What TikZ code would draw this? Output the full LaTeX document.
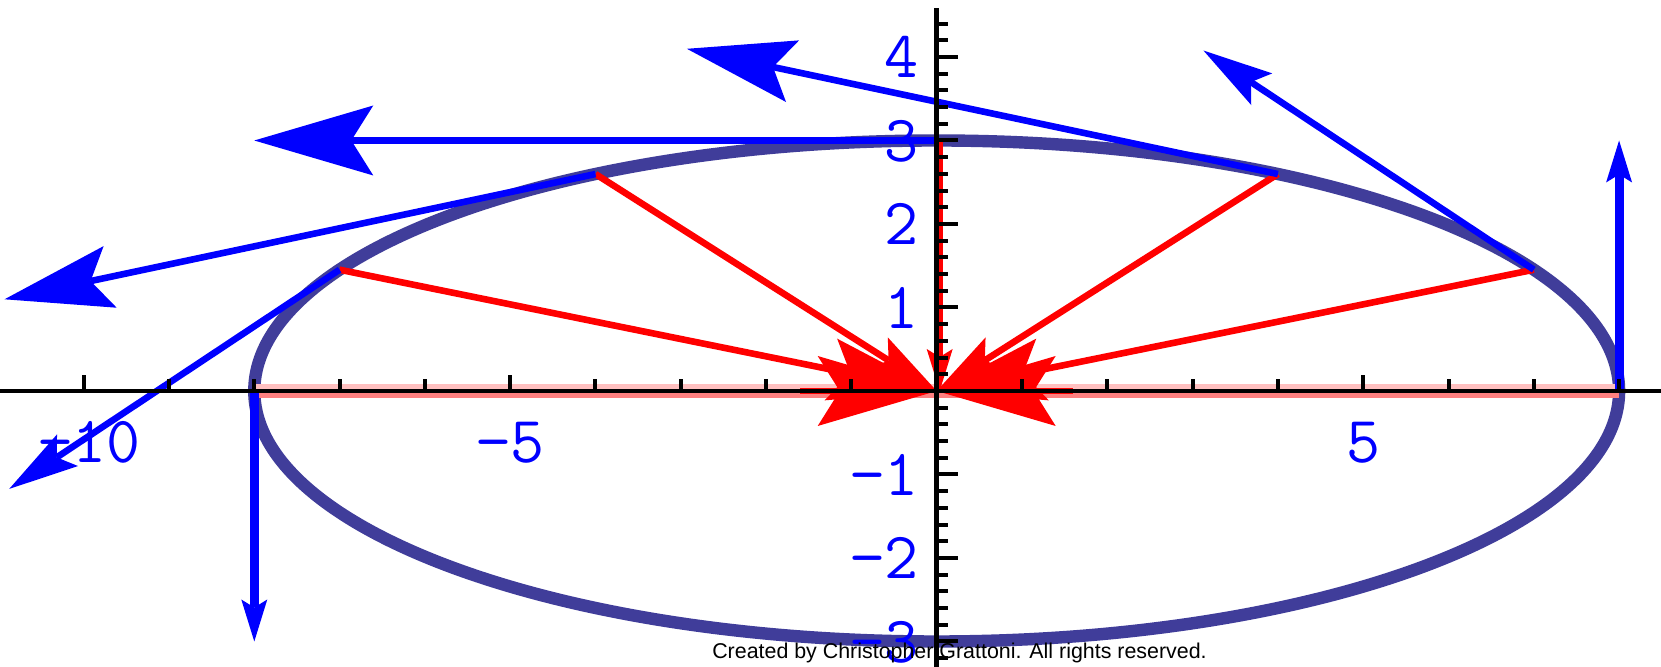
\documentclass[tikz,border=0pt]{standalone}
\usepackage{fontspec}
\setmainfont{Liberation Sans}
\usetikzlibrary{arrows.meta,calc}
\definecolor{ellc}{RGB}{64,61,154}
\definecolor{pinkup}{RGB}{255,192,192}
\definecolor{pinklo}{RGB}{255,128,128}
\begin{document}
\begin{tikzpicture}[x=42.65pt,y=41.75pt,
  ellline/.style={draw=ellc,line width=6.2pt},
  bluevec/.style={draw=blue,fill=blue,line width=3.3pt},
  bluevert/.style={draw=blue,fill=blue,line width=4.5pt},
  redvec/.style={draw=red,fill=red,line width=3.3pt},
  axisline/.style={draw=black,line width=2.25pt},
  tickline/.style={draw=black,line width=2pt},
  lbl/.style={text=blue,inner sep=0pt,font=\ttfamily\fontsize{33pt}{33pt}\selectfont},
  tipS/.style={-{Stealth[length=21pt,width=13pt,inset=4pt,line width=0pt]}},
  tipM/.style={-{Stealth[length=35pt,width=19pt,inset=6.5pt,line width=0pt]}},
  tipL/.style={-{Stealth[length=54pt,width=31.5pt,inset=10pt,line width=0pt]}},
  tipX/.style={-{Stealth[length=59.5pt,width=35pt,inset=11pt,line width=0pt]}}]
\useasboundingbox (-468.35pt,-138pt) rectangle (362.15pt,195.5pt);
\fill[white] (-468.35pt,-138pt) rectangle (362.15pt,195.5pt);
% points
\coordinate (O) at (0,0);
\coordinate (P1) at (8,0);        \coordinate (V1) at (8,3);
\coordinate (P2) at (7,1.4524);   \coordinate (V2) at (3.1270,4.0774);
\coordinate (P3) at (4,2.5981);   \coordinate (V3) at (-2.9282,4.0981);
\coordinate (P4) at (0,3);        \coordinate (V4) at (-8,3);
\coordinate (P5) at (-4,2.5981);  \coordinate (V5) at (-10.9282,1.0981);
\coordinate (P6) at (-7,1.4524);  \coordinate (V6) at (-10.8730,-1.1726);
\coordinate (P7) at (-8,0);       \coordinate (V7) at (-8,-3);
\coordinate (xl) at (-10.99,0);   \coordinate (xr) at (8.50,0);
\coordinate (ytop) at (0,4.587);  \coordinate (ybot) at (0,-3.31);
% ellipse
\draw[ellline] (O) ellipse [x radius=341.2pt, y radius=125.25pt];
% tick labels
\foreach \v/\t/\n in {4/4/1,3/3/2,2/2/3,1/1/4,-1/−1/5,-2/−2/6,-3/−3/7}
  \node[lbl,anchor=base east] (yl\n) at ([xshift=-9pt,yshift=-10.5pt]0,\v) {\t};
\node[lbl,anchor=base] (xl1) at ([xshift=3pt,yshift=-36pt]-10,0) {−10};
\node[lbl,anchor=base] (xl2) at ([yshift=-36pt]-5,0) {−5};
\node[lbl,anchor=base] (xl3) at ([yshift=-36pt]5,0) {5};
% red acceleration vectors
\draw[draw=pinkup,line width=2.4pt] ([yshift=2.3pt]P7) -- ([yshift=2.3pt]P1);
\draw[draw=pinklo,line width=2.4pt] ([yshift=-2.3pt]P7) -- ([yshift=-2.3pt]P1);
\draw[redvec,tipX] ($(P1)!0.8!(O)$) -- (O);
\draw[redvec,tipX] ($(P7)!0.8!(O)$) -- (O);
\draw[redvec,tipS] ([xshift=1.5pt]P4) -- ([xshift=1.5pt]O);
\draw[redvec,tipL] (P2) -- (O);
\draw[redvec,tipM] (P3) -- (O);
\draw[redvec,tipM] (P5) -- (O);
\draw[redvec,tipL] (P6) -- (O);
% blue velocity vectors
\draw[bluevert,tipS] (P1) -- (V1);
\draw[bluevec,tipM] (P2) -- (V2);
\draw[bluevec,tipL] (P3) -- (V3);
\draw[bluevec,tipX] (P4) -- (V4);
\draw[bluevec,tipL] (P5) -- (V5);
\draw[bluevec,tipM] (P6) -- (V6);
\draw[bluevert,tipS] (P7) -- (V7);
% axes
\draw[axisline] (xl) -- (xr);
\draw[axisline] (ybot) -- (ytop);
\foreach \k in {-11,...,8}{
  \pgfmathtruncatemacro\m{mod(abs(\k),5)}
  \ifnum\m=0
    \ifnum\k=0\else \draw[tickline] (\k,0) -- ++(0,8pt);\fi
  \else
    \draw[tickline] (\k,0) -- ++(0,6pt);
  \fi
}
\foreach \k in {-16,...,22}{
  \pgfmathtruncatemacro\m{mod(abs(\k),5)}
  \ifnum\m=0
    \ifnum\k=0\else \draw[tickline] (0,\k/5) -- ++(10.5pt,0);\fi
  \else
    \draw[tickline] (0,\k/5) -- ++(5.5pt,0);
  \fi
}
% footer
\node[font=\fontsize{10.7pt}{12pt}\selectfont,anchor=base,inner sep=0pt] (footer)
  at ([xshift=11.4pt,yshift=-133.8pt]O) {Created by Christopher Grattoni. All rights reserved.};
\end{tikzpicture}
\end{document}
